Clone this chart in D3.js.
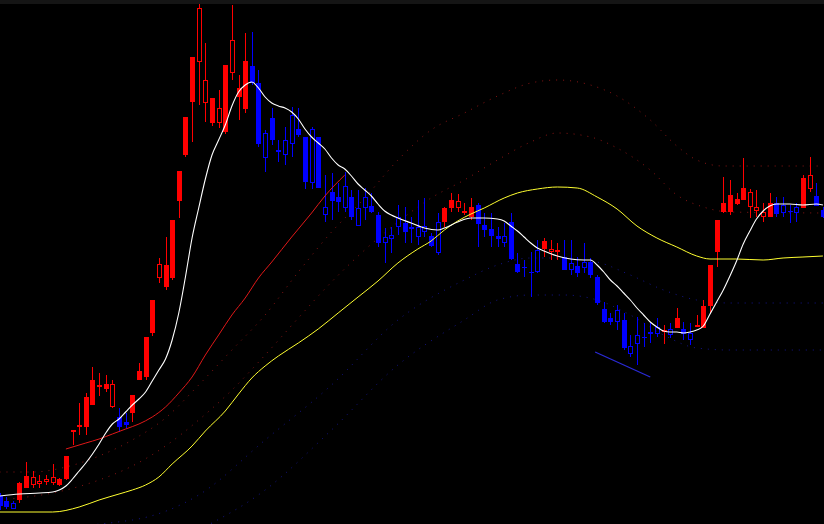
<!DOCTYPE html>
<html><head><meta charset="utf-8">
<script src="https://cdn.jsdelivr.net/npm/d3@7"></script>
<style>html,body{margin:0;padding:0;background:#000;overflow:hidden}</style>
</head><body>
<svg id="c" width="824" height="524"></svg>
<script>
// ---- candle data (price units) ----
const openP=[28,23,21,24,36,39,40,42,41,39,45,92,97,97,119,137,135,117,107,102,111,144,147,191,246,237,246,323,369,422,462,421,401,401,392,451,427,415,458,441,391,406,374,384,409,395,387,395,387,317,332,327,338,327,316,327,318,309,287,289,307,301,297,297,298,288,302,302,316,316,311,307,319,299,295,288,288,302,260,257,252,274,275,272,273,267,261,258,262,262,247,215,206,214,204,178,189,187,192,197,192,195,196,195,191,197,196,218,272,312,312,320,324,317,313,307,307,321,319,313,317,316,335,328,314];
const highP=[31,27,23,42,62,53,49,49,60,46,68,94,121,131,157,151,149,144,116,111,129,161,187,224,266,287,304,353,407,467,520,481,426,434,459,519,449,491,492,454,394,416,384,397,417,416,387,397,387,349,351,341,352,334,334,336,331,312,296,297,319,317,307,324,326,291,311,317,331,330,321,326,321,311,311,297,301,311,271,264,272,284,286,284,281,284,284,267,281,266,249,222,211,219,211,189,207,201,201,206,199,201,216,202,201,209,224,259,304,347,344,331,366,335,334,321,331,327,327,319,321,349,367,341,317];
const lowP=[14,15,15,21,36,36,36,39,39,38,44,79,89,89,119,128,132,116,92,96,102,144,144,188,241,234,244,306,367,382,419,402,398,396,390,444,404,411,439,377,352,379,362,359,367,387,335,335,336,302,304,312,312,304,298,304,311,277,261,271,289,281,281,279,287,277,269,297,312,312,309,304,277,287,277,277,277,264,251,247,227,251,267,264,264,254,249,247,251,246,219,201,199,194,174,167,159,177,181,187,180,186,196,184,179,197,196,211,257,311,309,319,324,306,307,302,307,307,307,301,302,316,332,318,306];
const closeP=[18,17,15,41,48,47,43,45,47,45,68,94,99,127,144,139,140,140,97,99,129,153,187,224,260,259,304,353,407,467,516,444,426,416,459,484,436,463,441,380,366,384,372,369,380,389,342,341,336,309,323,322,316,307,298,316,312,281,281,285,297,292,295,287,292,278,271,316,324,323,313,317,300,294,288,285,281,265,252,256,251,252,283,275,274,254,254,251,256,249,221,202,202,202,176,170,180,186,190,190,194,189,206,190,184,199,218,259,304,321,329,325,336,332,317,312,321,310,311,312,311,346,349,318,307];
const bodyFilled=[1,1,0,1,1,0,0,0,0,1,1,1,1,1,1,0,1,0,1,1,1,1,1,1,0,1,1,1,1,1,0,0,1,0,1,0,1,1,1,1,0,1,1,0,0,1,1,0,1,0,1,1,0,1,0,0,1,1,0,0,0,1,1,0,0,1,0,1,1,0,0,1,1,1,1,1,0,1,1,1,1,0,1,0,0,1,0,1,0,1,1,1,1,0,1,0,0,1,1,0,1,0,1,1,0,1,1,1,1,1,1,1,1,0,0,0,1,1,0,1,0,1,0,1,1];

// ---- overlay lines (index, value) ----
const whiteIdx=[0,3,6,8,9,10,11,12,13,14,15,16,17,18,19,20,21,22,23,24,25,26,27,28,29,30,31,32,33,34,35,36,37,38,39,40,41,42,43,44,45,46,47,48,49,50,51,52,53,54,55,56,57,58,59,60,62,64,66,67,69,71,73,75,76,77,78,79,80,81,82,84,86,88,89,90,91,92,93,94,95,96,97,98,99,100,101,102,103,104,105,106,107,108,109,110,111,112,113,114,115,116,117,119,121,123,124];
const whiteVal=[28,30,31,32,34,38,45,53,61,70,80,91,100,105,112,119,125,132,143,154,165,184,211,247,286,316,345,369,384,399,418,432,439,442,436,427,421,418,416,412,405,395,387,381,375,366,359,355,348,340,334,328,320,313,309,306,301,296,294,296,302,306,306,305,303,298,293,287,281,276,273,268,265,264,264,259,252,244,238,231,224,216,209,202,197,193,192,192,191,192,194,198,210,222,234,248,263,280,293,305,313,318,320,320,319,320,319];
const redIdx=[10,13,15,17,19,21,23,25,27,29,31,33,35,37,39,41,44,47,49,52];
const redVal=[75,81,85,90,95,100,107,117,131,147,169,189,209,226,246,262,287,311,328,349];
const yellowIdx=[0,8,12,15,18,20,22,24,26,29,31,34,36,38,40,42,45,48,51,54,57,60,63,65,67,69,71,73,76,78,81,84,87,90,93,96,99,102,105,107,111,115,118,121,124];
const yellowVal=[12,12,17,24,30,34,39,47,60,78,93,113,130,146,158,168,181,195,211,227,243,261,275,283,294,303,310,316,326,331,335,337,336,327,315,298,286,277,268,265,265,264,266,267,268];
const upper2Idx=[0,5,10,15,20,25,30,35,40,45,50,55,60,65,70,75,80,84,89,93,98,102,105,109,115,124];
const upper2Val=[52,52,57,68,84,106,139,174,209,252,292,326,364,394,411,428,441,444,439,428,404,378,364,358,358,358];
const upper1Idx=[0,10,15,20,25,30,35,40,45,50,55,60,65,70,75,80,84,89,93,98,102,106,110,124];
const upper1Val=[24,34,44,58,78,104,134,169,206,242,274,302,326,344,364,382,391,387,376,354,329,317,312,311];
const lower1Idx=[0,20,30,40,50,60,70,75,80,85,90,95,100,105,110,124];
const lower1Val=[-6,4,29,84,139,204,244,259,266,266,262,249,234,224,221,221];
const lower2Idx=[30,40,50,60,70,75,80,85,90,95,100,105,110,124];
const lower2Val=[-6,34,94,159,204,224,229,229,224,209,189,176,174,174];
const trendIdx=[89.7,98];
const trendVal=[172,147];

const W=824,H=524;
const svg=d3.select('#c');
svg.append('rect').attr('width',W).attr('height',H).attr('fill','#000');
svg.append('rect').attr('width',W).attr('height',4).attr('fill','#151515');

const n=openP.length;
const x=d3.scaleLinear().domain([0,n-1]).range([-0.5,822.9]);
const y=d3.scaleLinear().domain([0,524]).range([524,0]);

const g=svg.append('g');
const pts=(I,V)=>I.map((d,i)=>[d,V[i]]);
const line=d3.line().x(d=>x(d[0])).y(d=>y(d[1])).curve(d3.curveMonotoneX);

function dotted(I,V,color,dash){
  g.append('path').attr('d',line(pts(I,V))).attr('fill','none')
   .attr('stroke',color).attr('stroke-width',1).attr('stroke-dasharray',dash);
}
dotted(lower2Idx,lower2Val,'#14148a','1 6');
dotted(lower1Idx,lower1Val,'#14148a','1 6');
dotted(upper1Idx,upper1Val,'#8a1414','1 6');
dotted(upper2Idx,upper2Val,'#8a1414','1 6');

g.append('path').attr('d',d3.line().x(d=>x(d[0])).y(d=>y(d[1]))(pts(trendIdx,trendVal)))
 .attr('stroke','#2a2ad8').attr('stroke-width',1.2).attr('fill','none');

const cg=svg.append('g');
for(let i=0;i<n;i++){
  const up=closeP[i]>=openP[i];
  const col=up?'#ff0000':'#0000ff';
  const cx=Math.round(x(i));
  const top=Math.round(y(Math.max(openP[i],closeP[i])));
  const bot=Math.round(y(Math.min(openP[i],closeP[i])));
  const hi=Math.round(y(highP[i])), lo=Math.round(y(lowP[i]));
  const bh=Math.max(1,bot-top);
  if(bodyFilled[i]){
    cg.append('line').attr('x1',cx+0.5).attr('x2',cx+0.5).attr('y1',hi).attr('y2',lo).attr('stroke',col);
    cg.append('rect').attr('x',cx-2).attr('y',top).attr('width',5).attr('height',bh).attr('fill',col);
  } else {
    if(hi<top) cg.append('line').attr('x1',cx+0.5).attr('x2',cx+0.5).attr('y1',hi).attr('y2',top).attr('stroke',col);
    if(lo>bot) cg.append('line').attr('x1',cx+0.5).attr('x2',cx+0.5).attr('y1',bot).attr('y2',lo).attr('stroke',col);
    cg.append('rect').attr('x',cx-1.5).attr('y',top+0.5).attr('width',4).attr('height',Math.max(1,bh-1))
      .attr('fill','none').attr('stroke',col).attr('stroke-width',1);
  }
}

const lg=svg.append('g');
lg.append('path').attr('d',line(pts(yellowIdx,yellowVal))).attr('fill','none').attr('stroke','#ffff30').attr('stroke-width',1);
lg.append('path').attr('d',line(pts(redIdx,redVal))).attr('fill','none').attr('stroke','#e01818').attr('stroke-width',1);
lg.append('path').attr('d',line(pts(whiteIdx,whiteVal))).attr('fill','none').attr('stroke','#ffffff').attr('stroke-width',1.1);
</script>
</body></html>
